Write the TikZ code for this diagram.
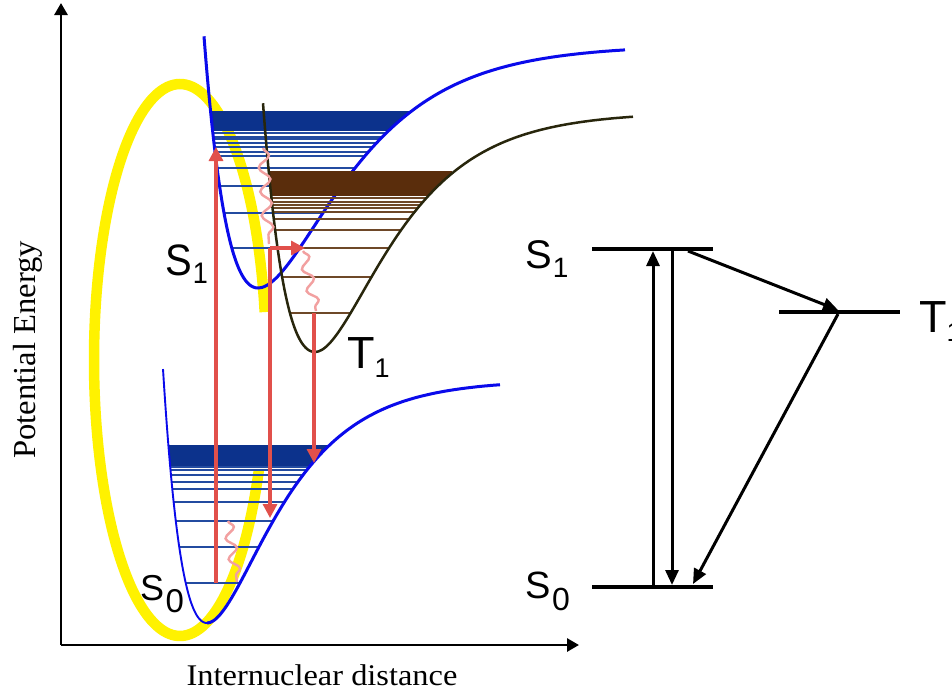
\documentclass[tikz,border=0pt]{standalone}
\usepackage{fontspec}
\setmainfont{Liberation Serif}
\newfontfamily\arialf{Liberation Sans}
\usetikzlibrary{arrows.meta,decorations.pathmorphing}
\definecolor{ybd}{RGB}{255,242,0}
\definecolor{cblue}{RGB}{10,10,235}
\definecolor{sband}{RGB}{12,50,140}
\definecolor{sline}{RGB}{35,75,160}
\definecolor{tband}{RGB}{90,45,12}
\definecolor{tline}{RGB}{110,72,40}
\definecolor{tcurve}{RGB}{40,38,12}
\definecolor{rarr}{RGB}{225,80,75}
\definecolor{pinkw}{RGB}{242,160,160}
\newcommand{\mlev}[7]{%
  \pgfmathsetmacro\mlF{sqrt(max(0,(#3-(#1))/#4))}%
  \pgfmathsetmacro\mlL{#2-ln(1+\mlF)/#5}%
  \pgfmathsetmacro\mlR{#2-ln(1-\mlF)/#6}%
  \draw[#7] (\mlL,#1) -- (\mlR,#1);}
\newcommand{\lbl}[6]{{\arialf\fontsize{#1}{#1}\selectfont #2\kern#5pt\raisebox{#6pt}{\fontsize{#3}{#3}\selectfont #4}}}
\begin{document}
\begin{tikzpicture}[x=1pt,y=-1pt,
  declare function={morse(\x,\xe,\ym,\D,\a)=\ym-\D*(1-exp(-\a*(\x-\xe)))*(1-exp(-\a*(\x-\xe)));},
  yband/.style={draw=ybd,line width=10.5pt},
  axisline/.style={line width=2.8pt,-{Triangle[length=12pt,width=13pt]}},
  s1band/.style={draw=sband,line width=1.3pt},
  s1line/.style={draw=sline,line width=1.6pt},
  t1band/.style={draw=tband,line width=1.3pt},
  t1line/.style={draw=tline,line width=1.6pt},
  bluecurve/.style={draw=cblue,line width=3pt},
  thincurve/.style={draw=cblue,line width=1.9pt},
  tcurvest/.style={draw=tcurve,line width=2.5pt},
  redarr/.style={draw=rarr,line width=3.2pt,-{Triangle[length=14pt,width=14pt]}},
  wavy/.style={draw=pinkw,line width=2.4pt,decorate,decoration={snake,amplitude=5.5pt,segment length=24pt}},
  level/.style={line width=4.5pt},
  blkarr/.style={line width=3pt,-{Triangle[length=15pt,width=13pt]}},
  axlabel/.style={font=\fontsize{32}{32}\selectfont,inner sep=0pt}]
\useasboundingbox (0,0) rectangle (952,691);
\fill[white] (0,0) rectangle (952,691);

% axes
\coordinate (O) at (61,645);
\coordinate (ytop) at (61,3);
\coordinate (xend) at (579,645);
\draw[axisline] (O) -- (ytop);
\draw[axisline] (O) -- (xend);
\node[axlabel,rotate=90,anchor=base] (ylab) at (35,350) {\scalebox{1.02}[1]{Potential Energy}};
\node[inner sep=0pt,anchor=base] (xlab) at (322,685) {\scalebox{1.08}[1]{\fontsize{30}{30}\selectfont Internuclear distance}};

% yellow ellipse
\draw[yband] plot[domain=10:336.5,samples=160,smooth] ({180+86*cos(\x)},{360-276*sin(\x)});

% S1 levels
\foreach \y in {112,113,...,130} {\mlev{\y}{258}{288}{243}{0.013}{0.0125}{s1band}}
\foreach \y in {133,137,139,143,147,152,156,168,186,213,248} {\mlev{\y}{258}{288}{243}{0.013}{0.0125}{s1line}}
% S1 curve
\draw[bluecurve] plot[domain=204:258,samples=60,smooth] (\x,{morse(\x,258,288,243,0.013)})
  -- plot[domain=258:625,samples=90,smooth] (\x,{morse(\x,258,288,243,0.0125)});

% T1 levels
\foreach \y in {172,173,...,195} {\mlev{\y}{315}{352}{240}{0.0135}{0.0145}{t1band}}
\foreach \y in {198,202,205,208,212,219,230,248,277,313} {\mlev{\y}{315}{352}{240}{0.0135}{0.0145}{t1line}}
% T1 curve
\draw[tcurvest] plot[domain=263:315,samples=60,smooth] (\x,{morse(\x,315,352,240,0.0135)})
  -- plot[domain=315:633,samples=90,smooth] (\x,{morse(\x,315,352,240,0.0145)});

% S0 levels
\foreach \y in {446,447,...,465} {\mlev{\y}{207}{623}{243}{0.016}{0.0158}{s1band}}
\foreach \y in {467,470,475,482,489,502,521,547,583} {\mlev{\y}{207}{623}{243}{0.016}{0.0158}{s1line}}
% S0 curve
\draw[thincurve] plot[domain=163:207,samples=60,smooth] (\x,{morse(\x,207,623,243,0.016)});
\draw[bluecurve] plot[domain=207:500,samples=90,smooth] (\x,{morse(\x,207,623,243,0.0158)});

% red transitions
\coordinate (absB) at (216,583);
\coordinate (absT) at (216,147);
\coordinate (flT) at (270,248);
\coordinate (flB) at (270,518);
\coordinate (iscE) at (305,248);
\coordinate (phT) at (314,313);
\coordinate (phB) at (314,463);
\draw[redarr] (absB) -- (absT);
\draw[redarr] (flT) -- (flB);
\draw[redarr] (flT) -- (iscE);
\draw[redarr] (phT) -- (phB);

% vibrational relaxation
\coordinate (w1a) at (263,148);
\coordinate (w1b) at (269,244);
\coordinate (w2a) at (303,251);
\coordinate (w2b) at (316,311);
\coordinate (w3a) at (228,521);
\coordinate (w3b) at (237,582);
\draw[wavy] (w1a) -- (w1b);
\draw[wavy,decoration={snake,amplitude=5pt,segment length=22pt}] (w2a) -- (w2b);
\draw[wavy,decoration={snake,amplitude=5pt,segment length=21pt}] (w3a) -- (w3b);

% labels on the curves
\node[inner sep=0pt,anchor=base west] (lS1) at (165,275) {\scalebox{1}[1.1]{\lbl{40}{S}{27}{1}{1}{-8}}};
\node[inner sep=0pt,anchor=base west] (lT1) at (347,368) {\lbl{45}{T}{27}{1}{0}{-9}};
\node[inner sep=0pt,anchor=base west] (lS0) at (140,600) {\lbl{36}{S}{33}{0}{1.5}{-12}};

% Jablonski diagram
\coordinate (S1a) at (592,249);
\coordinate (S1b) at (713,249);
\coordinate (T1a) at (779,312);
\coordinate (T1b) at (900,312);
\coordinate (S0a) at (592,587);
\coordinate (S0b) at (713,587);
\draw[level] (S1a) -- (S1b);
\draw[level] (T1a) -- (T1b);
\draw[level] (S0a) -- (S0b);
\coordinate (upB) at (653,585);
\coordinate (upT) at (653,251);
\coordinate (dnT) at (672,251);
\coordinate (dnB) at (672,585);
\coordinate (iscS) at (688,251);
\coordinate (iscT) at (838,310);
\coordinate (phS) at (838,314);
\coordinate (phE) at (693,584);
\draw[blkarr] (upB) -- (upT);
\draw[blkarr] (dnT) -- (dnB);
\draw[blkarr] (iscS) -- (iscT);
\draw[blkarr] (phS) -- (phE);
\node[inner sep=0pt,anchor=base west] (rS1) at (525,268) {\lbl{40}{S}{28}{1}{1}{-9}};
\node[inner sep=0pt,anchor=base west] (rT1) at (919,332) {\lbl{45}{T}{27}{1}{0}{-9}};
\node[inner sep=0pt,anchor=base west] (rS0) at (525,598) {\lbl{38}{S}{32}{0}{1.5}{-12}};
\end{tikzpicture}
\end{document}
